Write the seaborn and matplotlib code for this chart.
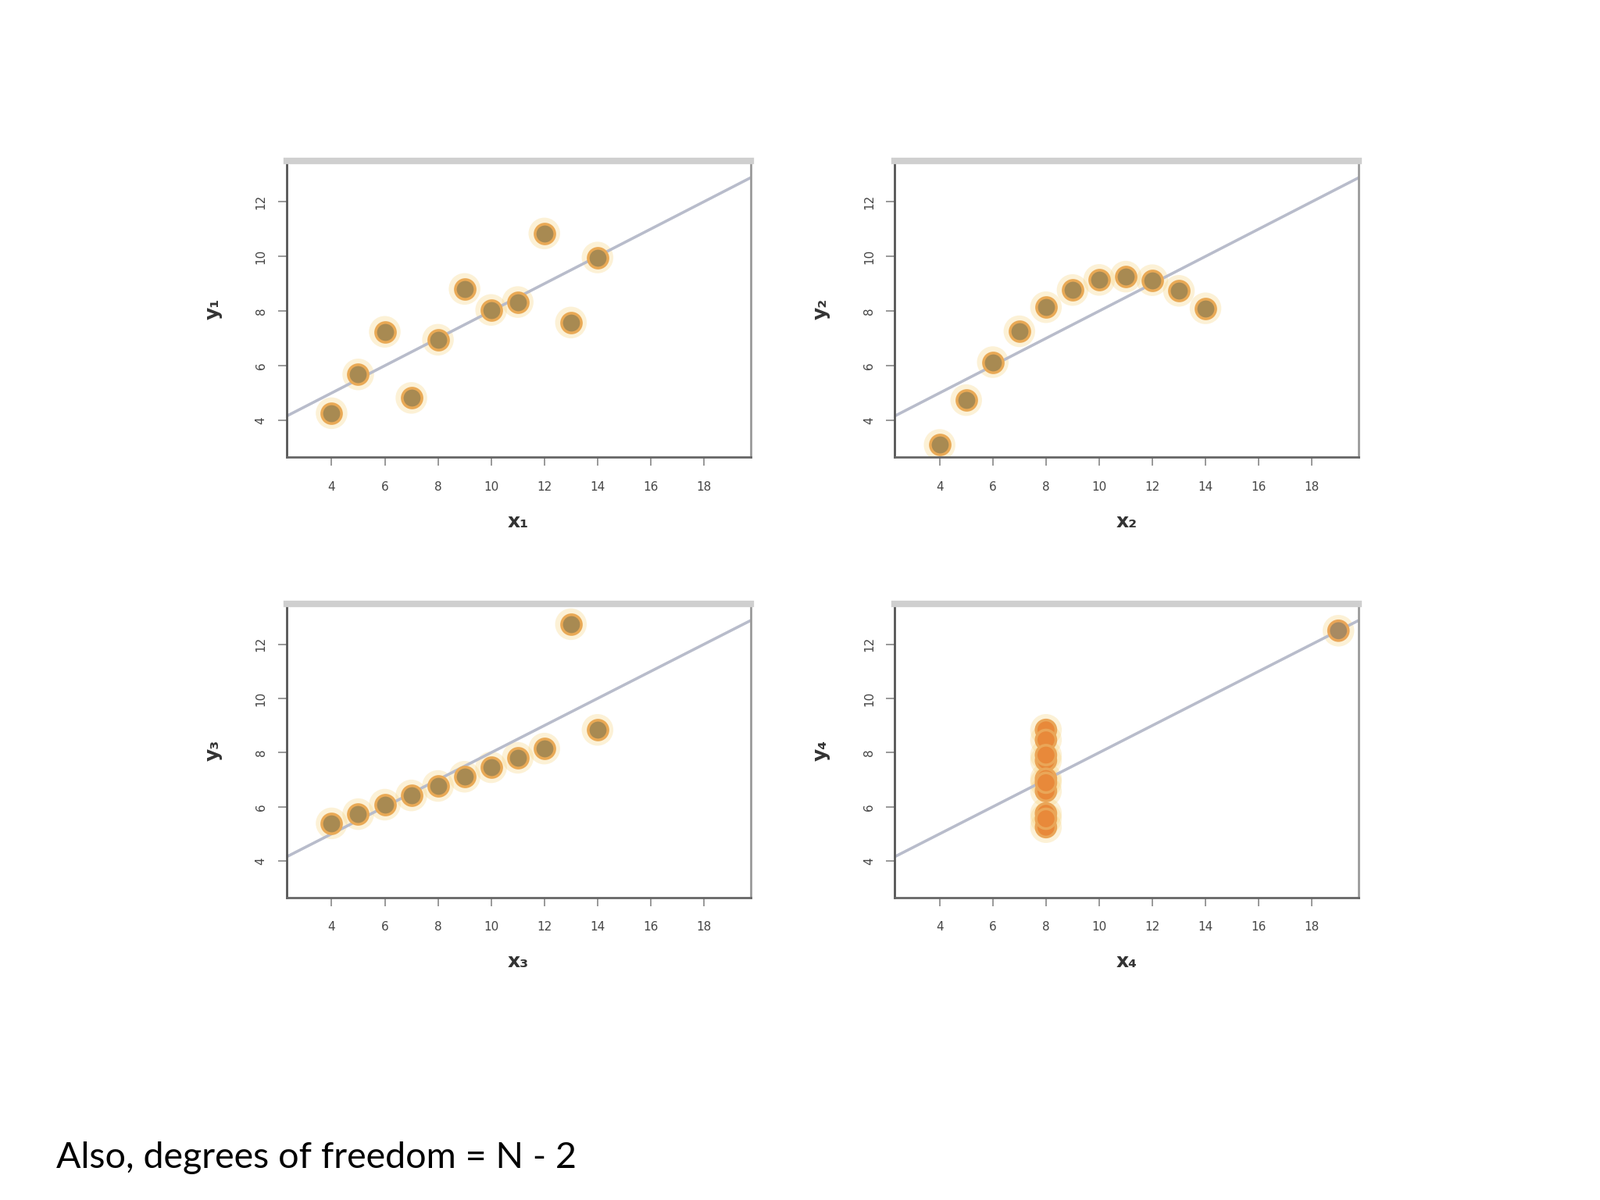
import numpy as np
import pandas as pd
import matplotlib
matplotlib.use('Agg')
import matplotlib.pyplot as plt
import seaborn as sns

# --- Anscombe's quartet ---
x_123 = [10, 8, 13, 9, 11, 14, 6, 4, 12, 7, 5]
y1 = [8.04, 6.95, 7.58, 8.81, 8.33, 9.96, 7.24, 4.26, 10.84, 4.82, 5.68]
y2 = [9.14, 8.14, 8.74, 8.77, 9.26, 8.10, 6.13, 3.10, 9.13, 7.26, 4.74]
y3 = [7.46, 6.77, 12.74, 7.11, 7.81, 8.84, 6.08, 5.39, 8.15, 6.42, 5.73]
x4 = [8, 8, 8, 8, 8, 8, 8, 19, 8, 8, 8]
y4 = [6.58, 5.76, 7.71, 8.84, 8.47, 7.04, 5.25, 12.50, 5.56, 7.91, 6.89]

x_labels = ["x₁", "x₂", "x₃", "x₄"]
y_labels = ["y₁", "y₂", "y₃", "y₄"]
x_ticks = [4, 6, 8, 10, 12, 14, 16, 18]
y_ticks = [4, 6, 8, 10, 12]
note = "Also, degrees of freedom = N - 2"

sets = [(x_123, y1), (x_123, y2), (x_123, y3), (x4, y4)]

sns.set_theme(style="white")
plt.rcParams['font.family'] = ['DejaVu Sans']

fig = plt.figure(figsize=(20.48, 15.36), dpi=100)
fig.patch.set_facecolor('white')

# axes boxes [left, bottom, width, height] in figure fractions
boxes = [
    [0.179, 0.619, 0.290, 0.247],
    [0.559, 0.619, 0.290, 0.247],
    [0.179, 0.252, 0.290, 0.245],
    [0.559, 0.252, 0.290, 0.245],
]

XLIM = (2.3, 19.75)
YLIM = (2.65, 13.5)

for i, ((xs, ys), box) in enumerate(zip(sets, boxes)):
    ax = fig.add_axes(box)
    df = pd.DataFrame({'x': xs, 'y': ys})
    ax.set_xlim(*XLIM)
    ax.set_ylim(*YLIM)

    # fitted line across the whole panel
    sns.regplot(data=df, x='x', y='y', ax=ax, ci=None, truncate=False,
                scatter=False, line_kws={'color': '#b8bccb', 'lw': 2.6})

    # soft halo behind points
    sns.scatterplot(data=df, x='x', y='y', ax=ax, s=850, color='#f7d27a',
                    alpha=0.3, edgecolor='none', legend=False)
    if i == 3:
        cols = ['#a88a62' if xv == 19 else '#e8893a' for xv in xs]
        ax.scatter(df['x'], df['y'], s=330, c=cols, edgecolors='#eaa658',
                   linewidths=2.5, zorder=3)
    else:
        sns.scatterplot(data=df, x='x', y='y', ax=ax, s=330, color='#a88a52',
                        edgecolor='#e9a955', linewidth=2.5, legend=False, zorder=3)

    ax.set_xlim(*XLIM)
    ax.set_ylim(*YLIM)
    ax.set_xticks(x_ticks)
    ax.set_yticks(y_ticks)
    ax.tick_params(axis='both', which='both', direction='out', length=8,
                   width=1.2, color='#888888', labelsize=11,
                   labelcolor='#444444', bottom=True, left=True)
    ax.tick_params(axis='x', pad=14)
    ax.tick_params(axis='y', pad=10)
    for lab in ax.get_yticklabels():
        lab.set_rotation(90)
        lab.set_va('center')

    ax.set_xlabel(x_labels[i], fontsize=18, fontweight='bold', color='#333333', labelpad=18)
    ax.set_ylabel(y_labels[i], fontsize=18, fontweight='bold', color='#333333', labelpad=30)

    ax.spines['top'].set_color('#cfcfcf')
    ax.spines['top'].set_linewidth(6)
    ax.spines['right'].set_color('#9a9a9a')
    ax.spines['right'].set_linewidth(2)
    ax.spines['left'].set_color('#555555')
    ax.spines['left'].set_linewidth(2)
    ax.spines['bottom'].set_color('#666666')
    ax.spines['bottom'].set_linewidth(2)
    ax.grid(False)

fig.text(0.0352, 0.0265, note, fontsize=33.5, family=['Lato', 'DejaVu Sans'],
         color='black', ha='left', va='baseline')

plt.savefig('out.png', dpi=100, facecolor='white')
plt.close()
